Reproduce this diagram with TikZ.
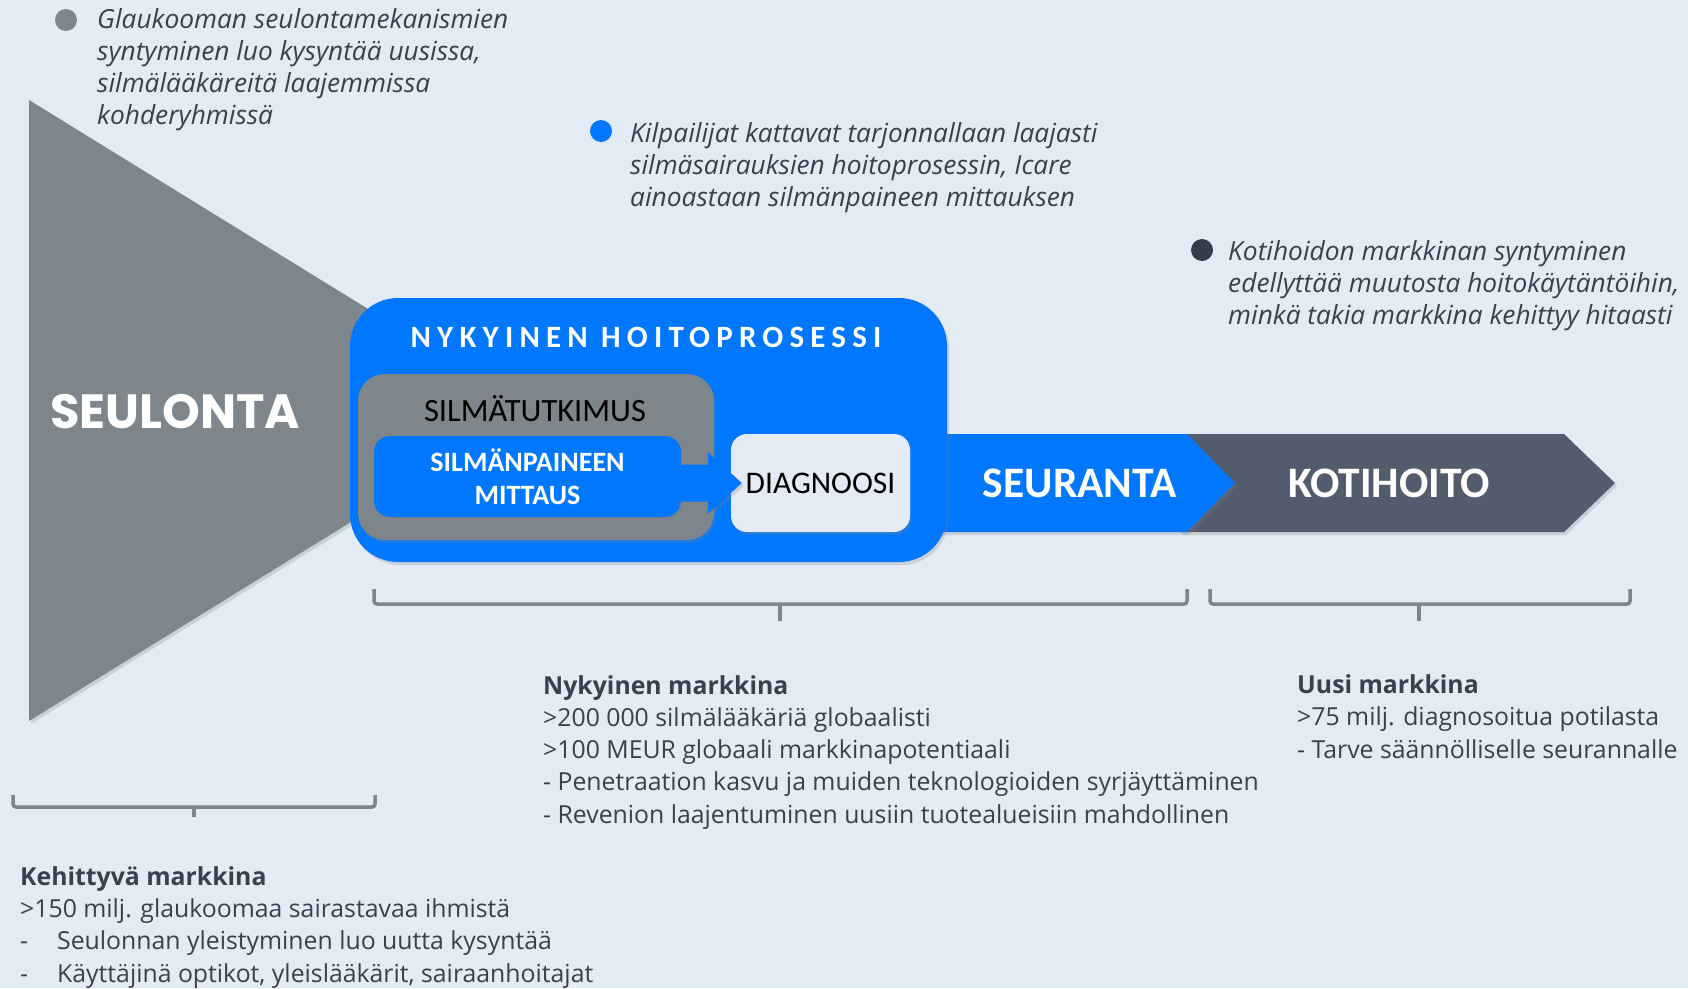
\documentclass[tikz,border=0pt]{standalone}
\usepackage{fontspec}
\setmainfont{Open Sans}
\newfontfamily\calfont{Carlito}
\newfontfamily\spacedfont{Carlito}[LetterSpace=20]
\newfontfamily\popfont{Poppins}
\usetikzlibrary{arrows.meta,calc,shadows}

\definecolor{bgcol}{HTML}{E4EBF5}
\definecolor{procblue}{HTML}{0077FF}
\definecolor{examgray}{HTML}{7E868C}
\definecolor{darkslate}{HTML}{535C6C}
\definecolor{txtgray}{HTML}{38424C}
\definecolor{dotdark}{HTML}{333D47}

\begin{document}
\begin{tikzpicture}[x=1pt,y=-1pt,
  box/.style={rounded corners=#1, inner sep=0pt, align=center},
  chev/.style={text=white, font=\calfont\bfseries\fontsize{43.5}{43.5}\selectfont},
  body/.style={anchor=base west, align=left, inner sep=0pt, text=txtgray,
    font=\fontsize{24.8}{32.2}\selectfont},
  note/.style={body, font=\itshape\fontsize{26.3}{32}\selectfont},
  bracket/.style={draw=examgray, line width=3.5pt, rounded corners=3pt},
  shade/.style={drop shadow={opacity=0.25, shadow xshift=2pt, shadow yshift=-3pt}}]
  % tausta
  \fill[bgcol] (0,0) rectangle (1688,988);
  \useasboundingbox (0,0) rectangle (1688,988);
  % seulontakolmio
  \fill[examgray,shade] (29,100) -- (532,410) -- (29,721) -- cycle;
  \node[text=white, font=\popfont\bfseries\fontsize{48}{48}\selectfont] (seul) at (175,412) {SEULONTA};
  % seuranta ja kotihoito
  \fill[darkslate,shade] (1180,434) -- (1564,434) -- (1615,483) -- (1564,532) -- (1180,532) -- cycle;
  \fill[procblue,shade] (930,434) -- (1187,434) -- (1235,483) -- (1187,532) -- (930,532) -- cycle;
  \node[chev] (seur) at (1080,483) {SEURANTA};
  \node[chev] (koti) at (1389,483) {KOTIHOITO};
  % nykyinen hoitoprosessi
  \node[box=48pt, fill=procblue, minimum width=597pt, minimum height=264pt, shade] (proc) at (648.5,430) {};
  \node[text=white, font=\spacedfont\bfseries\fontsize{31}{31}\selectfont] (title) at (646,337) {NYKYINEN HOITOPROSESSI};
  \node[box=27pt, fill=examgray, minimum width=356pt, minimum height=166pt, shade] (exam) at (536,457) {};
  \node[font=\calfont\fontsize{32.5}{32.5}\selectfont] (examtxt) at (535,409) {SILMÄTUTKIMUS};
  \node[box=16pt, fill=procblue, minimum width=307pt, minimum height=81pt, shade, text=white,
    font=\calfont\bfseries\fontsize{28}{33}\selectfont] (mitt) at (527.5,476.5) {SILMÄNPAINEEN\\MITTAUS};
  \node[box=16pt, fill=bgcol, minimum width=179pt, minimum height=98pt, shade,
    font=\calfont\fontsize{31.5}{31.5}\selectfont] (diag) at (820.5,483) {DIAGNOOSI};
  % nuoli mittauksesta diagnoosiin
  \fill[procblue,shade] ($(diag.west)+(11,0)$) -- ++(-34,-31) -- ++(0,12.5)
    -- ($(mitt.east |- diag.west)+(-4,-18.5)$) -- ++(0,37)
    -- ($(diag.west)+(-23,18.5)$) -- ++(0,12.5) -- cycle;
  % huomiot
  \fill[examgray] (66,20) circle (11);
  \node[note] (n1) at (97,124) {Glaukooman seulontamekanismien\\syntyminen luo kysyntää uusissa,\\silmälääkäreitä laajemmissa\\kohderyhmissä};
  \fill[procblue] (601,131) circle (11);
  \node[note] (n2) at (630,206) {Kilpailijat kattavat tarjonnallaan laajasti\\silmäsairauksien hoitoprosessin, Icare\\ainoastaan silmänpaineen mittauksen};
  \fill[dotdark] (1202,250) circle (11);
  \node[note] (n3) at (1228,324) {Kotihoidon markkinan syntyminen\\edellyttää muutosta hoitokäytäntöihin,\\minkä takia markkina kehittyy hitaasti};
  % hakasulkeet
  \draw[bracket] (13,795) -- (13,807) -- (375,807) -- (375,795);
  \draw[examgray, line width=3.5pt] (194,807) -- (194,817);
  \draw[bracket] (374,589) -- (374,604) -- (1187,604) -- (1187,589);
  \draw[examgray, line width=3.5pt] (780,604) -- (780,621);
  \draw[bracket] (1210,589) -- (1210,604) -- (1630,604) -- (1630,589);
  \draw[examgray, line width=3.5pt] (1419,604) -- (1419,621);
  % markkinat
  \node[body] (kehit) at (20,982) {\textbf{Kehittyvä markkina}\\>150 milj. glaukoomaa sairastavaa ihmistä\\\makebox[37pt][l]{-}Seulonnan yleistyminen luo uutta kysyntää\\\makebox[37pt][l]{-}Käyttäjinä optikot, yleislääkärit, sairaanhoitajat};
  \node[body] (nyky) at (543,823) {\textbf{Nykyinen markkina}\\>200 000 silmälääkäriä globaalisti\\>100 MEUR globaali markkinapotentiaali\\- Penetraation kasvu ja muiden teknologioiden syrjäyttäminen\\- Revenion laajentuminen uusiin tuotealueisiin mahdollinen};
  \node[body] (uusi) at (1297,758) {\textbf{Uusi markkina}\\>75 milj. diagnosoitua potilasta\\- Tarve säännölliselle seurannalle};
\end{tikzpicture}
\end{document}
